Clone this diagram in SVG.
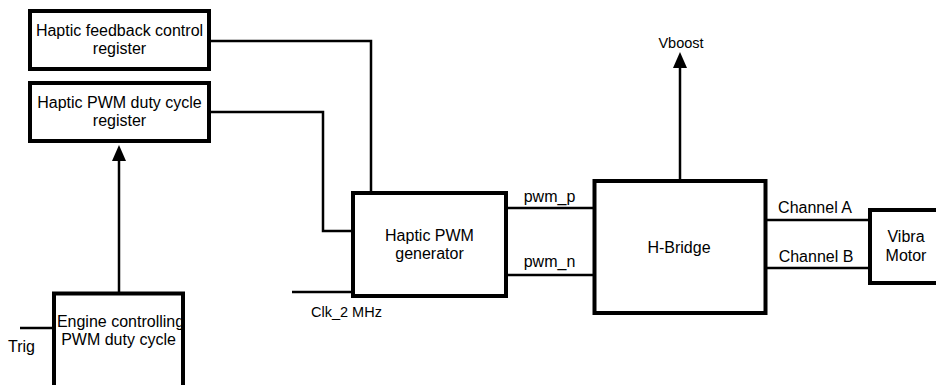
<svg xmlns="http://www.w3.org/2000/svg" width="936" height="385" viewBox="0 0 936 385">
<style>
.box{fill:#fff;stroke:#000;stroke-width:4}
.ln{fill:none;stroke:#000;stroke-width:2.5}
text{font-family:"Liberation Sans",Arial,sans-serif;font-size:16px;fill:#000}
.c{text-anchor:middle}
.s{font-size:14.5px}
</style>
<defs>
<marker id="ah" markerUnits="userSpaceOnUse" markerWidth="16" markerHeight="14" viewBox="0 0 16 14" refX="0" refY="7" orient="auto">
<path d="M0,0 L16,7 L0,14 z" fill="#000"/>
</marker>
</defs>
<rect width="936" height="385" fill="#fff"/>
<g id="connectors">
<path class="ln" d="M211 41 H371 V191"/>
<path class="ln" d="M211 112 H323 V231 H351"/>
<path class="ln" d="M292 292 H351"/>
<path class="ln" d="M508 208 H593"/>
<path class="ln" d="M508 275 H593"/>
<path class="ln" d="M767 220 H868"/>
<path class="ln" d="M767 268 H868"/>
<path class="ln" d="M680 179 V68" marker-end="url(#ah)"/>
<path class="ln" d="M119 292 V161" marker-end="url(#ah)"/>
<path class="ln" d="M20 328 H52"/>
<text class="c" x="549.5" y="202">pwm_p</text>
<text class="c" x="549.5" y="267">pwm_n</text>
<text class="c" x="815" y="213">Channel A</text>
<text class="c" x="816" y="262">Channel B</text>
<text class="c s" x="681" y="48">Vboost</text>
<text class="s" x="311" y="317">Clk_2 MHz</text>
<text x="8" y="352">Trig</text>
</g>
<g id="feedback-register">
<rect class="box" x="30" y="11" width="179" height="58"/>
<text class="c" x="119.5" y="36">Haptic feedback control</text>
<text class="c" x="119.5" y="54">register</text>
</g>
<g id="duty-register">
<rect class="box" x="30" y="83" width="179" height="58"/>
<text class="c" x="119.5" y="108">Haptic PWM duty cycle</text>
<text class="c" x="119.5" y="126">register</text>
</g>
<g id="pwm-generator">
<rect class="box" x="353" y="193" width="153" height="103"/>
<text class="c" x="429.5" y="241">Haptic PWM</text>
<text class="c" x="429.5" y="259">generator</text>
</g>
<g id="h-bridge">
<rect class="box" x="594.5" y="181" width="171" height="132"/>
<text class="c" x="679" y="253">H-Bridge</text>
</g>
<g id="vibra-motor">
<rect class="box" x="870" y="210" width="80" height="73"/>
<text class="c" x="906" y="242">Vibra</text>
<text class="c" x="906" y="261">Motor</text>
</g>
<g id="engine">
<rect class="box" x="54" y="293.5" width="129" height="120"/>
<text class="c" x="120.5" y="327">Engine controlling</text>
<text class="c" x="118.5" y="345">PWM duty cycle</text>
</g>
</svg>
